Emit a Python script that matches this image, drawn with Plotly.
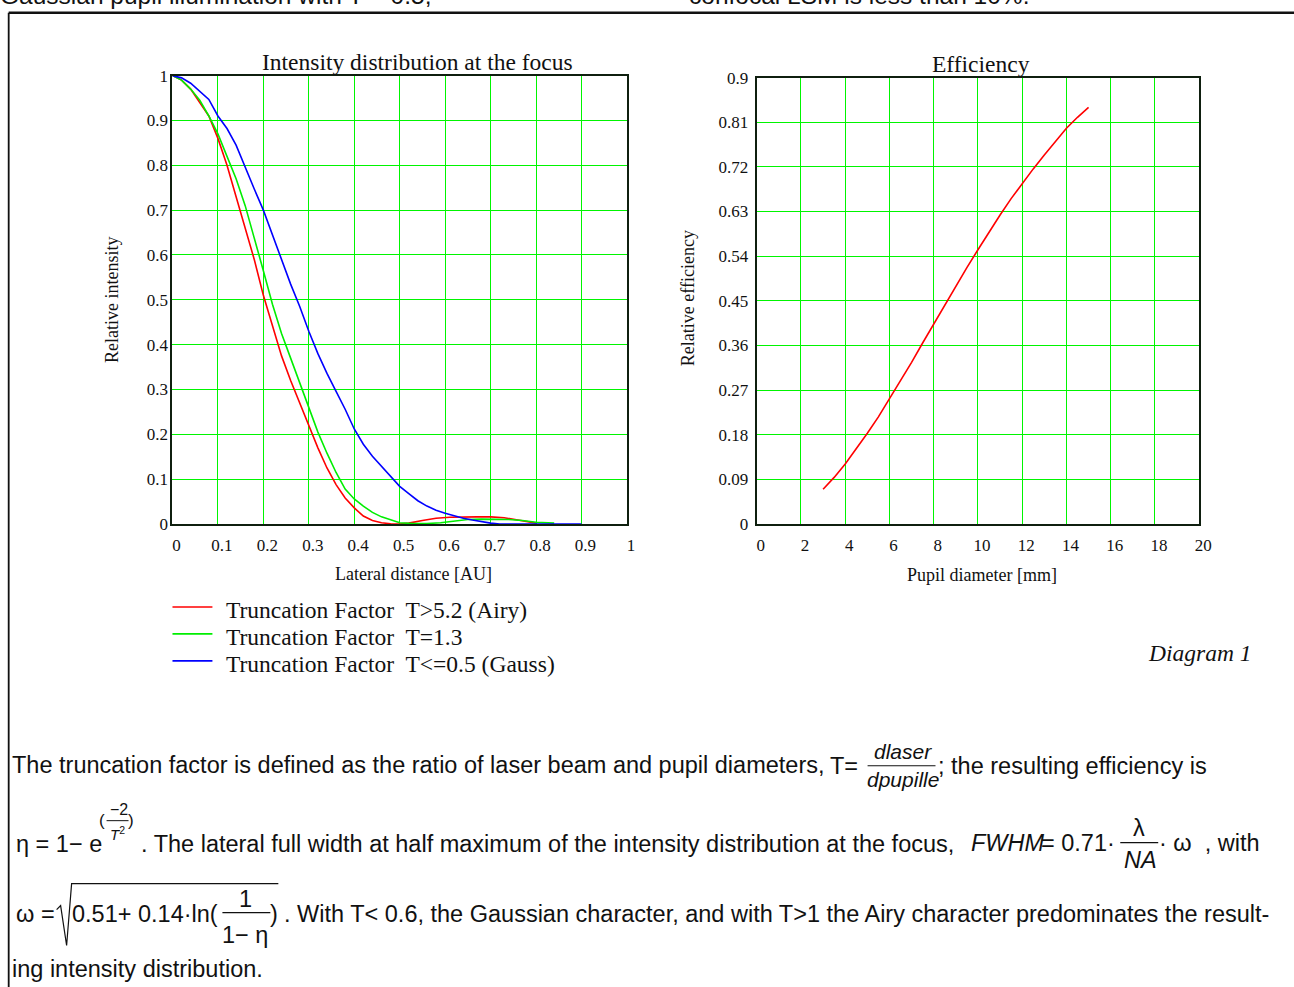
import plotly.graph_objects as go

# ---- Intensity distribution at the focus (lateral distance in Airy units) ----
airy_x = [0, 0.02, 0.04, 0.06, 0.08, 0.10, 0.12, 0.14, 0.16, 0.18, 0.20, 0.22, 0.24,
          0.26, 0.28, 0.30, 0.32, 0.34, 0.36, 0.38, 0.40, 0.42, 0.44, 0.46, 0.48, 0.50,
          0.52, 0.55, 0.58, 0.61, 0.64, 0.67, 0.70, 0.73, 0.76, 0.78, 0.80]
airy_y = [1.0, 0.99, 0.97, 0.94, 0.91, 0.86, 0.80, 0.73, 0.66, 0.59, 0.51, 0.44, 0.375,
          0.32, 0.27, 0.22, 0.17, 0.125, 0.088, 0.058, 0.036, 0.018, 0.008, 0.003, 0.0005, 0.0,
          0.002, 0.008, 0.013, 0.015, 0.016, 0.016, 0.016, 0.014, 0.009, 0.006, 0.002]

t13_x = [0, 0.02, 0.04, 0.06, 0.08, 0.10, 0.12, 0.14, 0.16, 0.18, 0.20, 0.22, 0.24,
         0.26, 0.28, 0.30, 0.32, 0.34, 0.36, 0.38, 0.40, 0.42, 0.44, 0.46, 0.48, 0.50,
         0.53, 0.56, 0.59, 0.62, 0.65, 0.68, 0.71, 0.74, 0.77, 0.80, 0.84]
t13_y = [1.0, 0.99, 0.97, 0.945, 0.91, 0.87, 0.82, 0.77, 0.71, 0.64, 0.565, 0.49, 0.425,
         0.37, 0.315, 0.26, 0.205, 0.158, 0.115, 0.078, 0.056, 0.040, 0.026, 0.016, 0.009, 0.003,
         0.001, 0.001, 0.003, 0.007, 0.010, 0.011, 0.011, 0.010, 0.008, 0.004, 0.002]

gauss_x = [0, 0.02, 0.04, 0.06, 0.08, 0.10, 0.12, 0.14, 0.16, 0.18, 0.20, 0.22, 0.24,
           0.26, 0.28, 0.30, 0.32, 0.34, 0.36, 0.38, 0.40, 0.42, 0.44, 0.46, 0.48, 0.50,
           0.52, 0.54, 0.56, 0.58, 0.60, 0.62, 0.64, 0.66, 0.68, 0.70, 0.72, 0.80, 0.90]
gauss_y = [1.0, 0.995, 0.983, 0.966, 0.947, 0.91, 0.882, 0.845, 0.795, 0.747, 0.70, 0.645, 0.587,
           0.535, 0.485, 0.43, 0.38, 0.336, 0.296, 0.256, 0.212, 0.178, 0.151, 0.128, 0.106, 0.084,
           0.068, 0.052, 0.040, 0.031, 0.024, 0.018, 0.013, 0.009, 0.005, 0.002, 0.0, 0.0, 0.0]

# ---- Efficiency versus pupil diameter ----
pupil_mm = [3, 3.5, 4, 4.5, 5, 5.5, 6, 6.5, 7, 7.5, 8, 8.5, 9, 9.5, 10, 10.5, 11,
            11.5, 12, 12.5, 13, 13.5, 14, 14.5, 15]
efficiency = [0.070, 0.094, 0.121, 0.151, 0.183, 0.216, 0.252, 0.289, 0.326, 0.365, 0.403,
              0.442, 0.480, 0.517, 0.553, 0.589, 0.623, 0.656, 0.687, 0.716, 0.744, 0.772,
              0.798, 0.820, 0.840]

int_ticks = [0, 0.1, 0.2, 0.3, 0.4, 0.5, 0.6, 0.7, 0.8, 0.9, 1.0]
int_labels = ["0", "0.1", "0.2", "0.3", "0.4", "0.5", "0.6", "0.7", "0.8", "0.9", "1"]
pupil_ticks = [0, 2, 4, 6, 8, 10, 12, 14, 16, 18, 20]
eff_ticks = [0, 0.09, 0.18, 0.27, 0.36, 0.45, 0.54, 0.63, 0.72, 0.81, 0.9]
eff_labels = ["0", "0.09", "0.18", "0.27", "0.36", "0.45", "0.54", "0.63", "0.72", "0.81", "0.9"]

legend_names = ["Truncation Factor  T>5.2 (Airy)",
                "Truncation Factor  T=1.3",
                "Truncation Factor  T<=0.5 (Gauss)"]
legend_colors = ["#ff0000", "#00ee00", "#0000ff"]

W, H = 1294, 987
SERIF = "Liberation Serif, Times New Roman, serif"
SANS = "Liberation Sans, Arial, sans-serif"
GRID = "rgb(0,245,0)"
FRAME = "#0f1f0f"
BODY = 23.5
PAD = 3  # annotation inner padding, in px

# page layout grid: positions below are given in page pixels and mapped to paper fractions
SX, OX = 0.992, -0.7
SY, OY = 0.982, 8.3


def px(x):
    return ((x - OX) / SX) / W


def py(y):
    return 1 - ((y - OY) / SY) / H


fig = go.Figure()
for xs, ys, name, col in zip([airy_x, t13_x, gauss_x], [airy_y, t13_y, gauss_y],
                             legend_names, legend_colors):
    fig.add_trace(go.Scatter(x=xs, y=ys, mode="lines", name=name, showlegend=False,
                             line=dict(color=col, width=1.6), xaxis="x", yaxis="y"))
fig.add_trace(go.Scatter(x=pupil_mm, y=efficiency, mode="lines", showlegend=False,
                         line=dict(color="#ff0000", width=1.6), xaxis="x2", yaxis="y2"))

axis_common = dict(showgrid=True, gridcolor=GRID, gridwidth=1.3, zeroline=False,
                   showline=True, linecolor=FRAME, linewidth=2, mirror=True,
                   ticks="", tickfont=dict(family=SERIF, size=17, color="#111"))

fig.update_layout(
    width=W, height=H, margin=dict(l=0, r=0, t=0, b=0),
    paper_bgcolor="white", plot_bgcolor="white", showlegend=False,
    xaxis=dict(domain=[px(172), px(627)], range=[0, 1], anchor="y",
               tickvals=int_ticks, ticktext=int_labels, ticklabelshift=4,
               ticklabelstandoff=5, **axis_common),
    yaxis=dict(domain=[py(524), py(75)], range=[0, 1], anchor="x",
               tickvals=int_ticks, ticktext=int_labels, ticklabelstandoff=-1,
               **axis_common),
    xaxis2=dict(domain=[px(757), px(1200)], range=[0, 20], anchor="y2",
                tickvals=pupil_ticks, ticklabelshift=4, ticklabelstandoff=5,
                **axis_common),
    yaxis2=dict(domain=[py(524), py(77)], range=[0, 0.9], anchor="x2",
                tickvals=eff_ticks, ticktext=eff_labels, ticklabelstandoff=3,
                **axis_common),
)

ann = []


def text(x, y, s, size=BODY, family=SANS, anchor="left", italic=False, color="#111"):
    if anchor == "left":
        x -= PAD
    elif anchor == "right":
        x += PAD
    ann.append(dict(x=px(x), y=py(y), xref="paper", yref="paper", text=s,
                    showarrow=False, xanchor=anchor, yanchor="middle",
                    font=dict(family=family, size=size, color=color,
                              style="italic" if italic else "normal")))


# chart titles, axis titles, diagram caption
text(417, 61, "Intensity distribution at the focus", 23.5, SERIF, "center")
text(982, 63, "Efficiency", 23.5, SERIF, "center")
text(413, 574, "Lateral distance [AU]", 18, SERIF, "center")
text(983, 575, "Pupil diameter [mm]", 18, SERIF, "center")
ann.append(dict(x=px(112), y=py(300), xref="paper", yref="paper", text="Relative intensity",
                showarrow=False, textangle=-90, xanchor="center", yanchor="middle",
                font=dict(family=SERIF, size=18, color="#111")))
ann.append(dict(x=px(689), y=py(298), xref="paper", yref="paper", text="Relative efficiency",
                showarrow=False, textangle=-90, xanchor="center", yanchor="middle",
                font=dict(family=SERIF, size=18, color="#111")))
text(1252, 653, "Diagram 1", 23.5, SERIF, "right", italic=True)

shapes = []


def seg(x0, y0, x1, y1, w=1.2, col="#111"):
    shapes.append(dict(type="line", xref="paper", yref="paper", x0=px(x0), y0=py(y0),
                       x1=px(x1), y1=py(y1), line=dict(color=col, width=w)))


# legend for the intensity curves
for i, (name, col) in enumerate(zip(legend_names, legend_colors)):
    ly = 607 + 27 * i
    seg(172, ly, 212, ly, 1.6, col)
    text(227, ly + 3, name, 23.5, SERIF)

# text above the frame
text(0, -5, "Gaussian pupil illumination with T = 0.5;", 24.5)
text(690, -5, "confocal LSM is less than 10%.", 24.5)

# paragraph, line 1
text(12, 765, "The truncation factor is defined as the ratio of laser beam and pupil diameters,", BODY)
text(831, 766, "T=", BODY)
text(903, 752, "dlaser", 21, anchor="center", italic=True)
text(903, 780, "dpupille", 21, anchor="center", italic=True)
text(940, 766, "; the resulting efficiency is", BODY)

# paragraph, line 2
text(16, 844, "η = 1− e", BODY)
text(99, 821, "(", 17)
text(118, 810, "−2", 16, anchor="center")
text(117, 834, "<i>T</i><sup>2</sup>", 15, anchor="center")
text(128, 821, ")", 17)
text(141, 844, ". The lateral full width at half maximum of the intensity distribution at the focus,", BODY)
text(973, 843, "FWHM", BODY, italic=True)
text(1043, 843, "= 0.71·", BODY)
text(1140, 828, "λ", BODY, anchor="center")
text(1141, 860, "NA", BODY, anchor="center", italic=True)
text(1161, 843, "· ω  , with", BODY)

# paragraph, line 3
text(16, 914, "ω =", BODY)
text(72, 914, "0.51+ 0.14·ln(", BODY)
text(245, 899, "1", BODY, anchor="center")
text(245, 935, "1− η", BODY, anchor="center")
text(271, 914, ")", BODY)
text(285, 914, ". With T< 0.6, the Gaussian character, and with T>1 the Airy character predominates the result-", BODY)

# paragraph, line 4
text(12, 970, "ing intensity distribution.", BODY)

# frame
seg(8, 12, 1300, 12, 2.5)
seg(8, 12, 8, 1000, 1.8)
# fraction bars
seg(868, 766, 936, 766)
seg(106, 821, 128, 821, 1)
seg(1121, 843, 1159, 843)
seg(222, 913, 270, 913)
# radical sign
shapes.append(dict(type="path", xref="paper", yref="paper",
                   path=f"M {px(56)} {py(910)} L {px(60)} {py(906)} L {px(66)} {py(946)} "
                        f"L {px(71)} {py(884)} L {px(278)} {py(884)}",
                   line=dict(color="#111", width=1.2)))

fig.update_layout(annotations=ann, shapes=shapes)
fig.write_html("out.html")
